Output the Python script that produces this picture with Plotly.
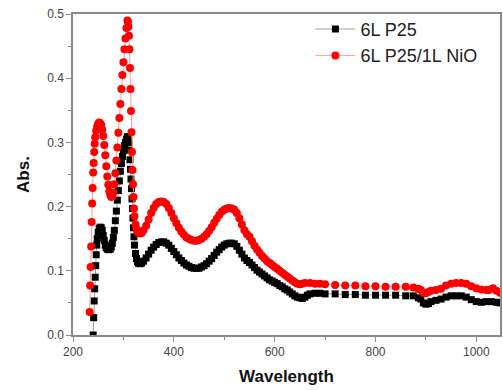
import plotly.graph_objects as go

# ---- data ----
red_wl = [233, 234, 235, 236, 237, 238, 239, 240, 241, 242, 243, 244, 246, 248, 250, 252, 254, 256, 258, 260,
          262, 264, 266, 268, 270, 272, 274, 276, 278, 280, 282, 284, 286, 288, 290, 292, 294, 296, 298, 300,
          302, 304, 306, 308, 309, 310, 311, 312, 313, 314, 315, 316, 317, 318, 319, 320, 321, 322, 324, 326,
          328, 330, 333, 336, 340, 345, 350, 355, 360, 365, 370, 375, 380, 385, 390, 395, 400, 405, 410, 415,
          420, 425, 430, 435, 440, 445, 450, 455, 460, 465, 470, 475, 480, 485, 490, 495, 500, 505, 510, 515,
          520, 525, 530, 535, 540, 545, 550, 555, 560, 565, 570, 575, 580, 585, 590, 595, 600, 605, 610, 615,
          620, 625, 630, 635, 640, 645, 650, 655, 660, 670, 680, 690, 700, 720, 740, 760, 780, 800, 820, 840,
          860, 875, 885, 890, 895, 900, 905, 910, 920, 930, 940, 950, 960, 970, 980, 990, 1000, 1010, 1020, 1025,
          1033, 1040, 1047]
red_abs = [0.036, 0.077, 0.106, 0.138, 0.176, 0.205, 0.229, 0.253, 0.268, 0.285, 0.298, 0.308, 0.318, 0.325, 0.329, 0.331, 0.330, 0.327, 0.320, 0.310,
           0.296, 0.280, 0.263, 0.247, 0.234, 0.224, 0.218, 0.215, 0.216, 0.222, 0.235, 0.252, 0.272, 0.292, 0.315, 0.338, 0.360, 0.383, 0.405, 0.425,
           0.445, 0.462, 0.478, 0.490, 0.488, 0.480, 0.466, 0.445, 0.416, 0.383, 0.349, 0.316, 0.285, 0.257, 0.235, 0.215, 0.197, 0.185, 0.172, 0.165,
           0.161, 0.159, 0.158, 0.159, 0.163, 0.170, 0.180, 0.190, 0.198, 0.204, 0.207, 0.208, 0.207, 0.204, 0.198, 0.190, 0.182, 0.174, 0.167, 0.161,
           0.156, 0.152, 0.150, 0.148, 0.147, 0.147, 0.148, 0.150, 0.153, 0.157, 0.162, 0.168, 0.175, 0.181, 0.187, 0.192, 0.195, 0.197, 0.198, 0.197,
           0.195, 0.190, 0.182, 0.172, 0.163, 0.157, 0.153, 0.146, 0.139, 0.133, 0.128, 0.123, 0.119, 0.115, 0.112, 0.109, 0.106, 0.103, 0.100, 0.097,
           0.094, 0.091, 0.088, 0.085, 0.082, 0.080, 0.079, 0.080, 0.081, 0.081, 0.080, 0.080, 0.079, 0.078, 0.077, 0.077, 0.076, 0.076, 0.075, 0.075,
           0.075, 0.074, 0.072, 0.070, 0.066, 0.065, 0.067, 0.069, 0.070, 0.072, 0.077, 0.080, 0.081, 0.081, 0.080, 0.076, 0.073, 0.071, 0.070, 0.070,
           0.073, 0.069, 0.066]

blk_wl = [240, 241, 242, 243, 244, 245, 246, 247, 248, 250, 252, 254, 256, 258, 260, 262, 264, 266, 268, 270,
          272, 274, 276, 278, 280, 282, 284, 286, 288, 290, 292, 294, 296, 298, 300, 302, 304, 306, 308, 310,
          311, 312, 313, 314, 315, 316, 317, 318, 319, 320, 321, 322, 324, 326, 328, 330, 333, 336, 340, 345,
          350, 355, 360, 365, 370, 375, 380, 385, 390, 395, 400, 405, 410, 415, 420, 425, 430, 435, 440, 445,
          450, 455, 460, 465, 470, 475, 480, 485, 490, 495, 500, 505, 510, 515, 520, 525, 530, 535, 540, 545,
          550, 555, 560, 565, 570, 575, 580, 585, 590, 595, 600, 605, 610, 615, 620, 625, 630, 635, 640, 645,
          650, 655, 660, 665, 670, 680, 690, 700, 720, 740, 760, 780, 800, 820, 840, 860, 875, 885, 890, 895,
          900, 905, 910, 920, 930, 940, 950, 960, 970, 980, 990, 1000, 1010, 1020, 1030, 1040, 1047]
blk_abs = [0.000, 0.027, 0.053, 0.072, 0.090, 0.108, 0.125, 0.140, 0.150, 0.160, 0.166, 0.168, 0.167, 0.163, 0.155, 0.147, 0.140, 0.136, 0.134, 0.133,
           0.133, 0.134, 0.137, 0.143, 0.152, 0.163, 0.178, 0.193, 0.210, 0.225, 0.240, 0.255, 0.267, 0.278, 0.287, 0.295, 0.300, 0.305, 0.309, 0.308,
           0.300, 0.288, 0.273, 0.258, 0.243, 0.228, 0.212, 0.197, 0.182, 0.167, 0.153, 0.140, 0.127, 0.119, 0.114, 0.112, 0.111, 0.112, 0.115, 0.120,
           0.126, 0.132, 0.137, 0.141, 0.144, 0.145, 0.145, 0.143, 0.140, 0.135, 0.130, 0.125, 0.120, 0.116, 0.112, 0.109, 0.107, 0.105, 0.104, 0.104,
           0.104, 0.106, 0.108, 0.111, 0.115, 0.119, 0.124, 0.129, 0.133, 0.137, 0.140, 0.142, 0.143, 0.143, 0.142, 0.138, 0.132, 0.126, 0.120, 0.116,
           0.113, 0.109, 0.105, 0.101, 0.098, 0.095, 0.092, 0.089, 0.086, 0.084, 0.082, 0.080, 0.077, 0.075, 0.072, 0.070, 0.067, 0.064, 0.061, 0.059,
           0.058, 0.057, 0.059, 0.062, 0.064, 0.065, 0.065, 0.064, 0.064, 0.063, 0.063, 0.062, 0.062, 0.062, 0.062, 0.061, 0.061, 0.058, 0.056, 0.050,
           0.048, 0.049, 0.052, 0.054, 0.056, 0.059, 0.061, 0.061, 0.061, 0.059, 0.055, 0.052, 0.051, 0.052, 0.052, 0.051, 0.050]

x_ticks = [200, 400, 600, 800, 1000]
y_ticks = [0.0, 0.1, 0.2, 0.3, 0.4, 0.5]

FONT = "Liberation Sans, Arial, sans-serif"

fig = go.Figure()
fig.add_trace(go.Scatter(
    x=blk_wl, y=blk_abs, name="6L P25", mode="lines+markers",
    line=dict(color="#a0a0a0", width=1),
    marker=dict(color="black", symbol="square", size=7, line=dict(width=0)),
))
fig.add_trace(go.Scatter(
    x=red_wl, y=red_abs, name="6L P25/1L NiO", mode="lines+markers",
    line=dict(color="#ff9a9a", width=1),
    marker=dict(color="#ff0000", symbol="circle", size=8, line=dict(width=0)),
))

axis_common = dict(
    showline=True, linecolor="#8a8a8a", linewidth=1.5, mirror=True,
    ticks="outside", tickcolor="#8a8a8a", ticklen=5, tickwidth=1.2,
    showgrid=False, zeroline=False,
    tickfont=dict(family=FONT, size=12, color="#444444"),
)

fig.update_xaxes(
    range=[200, 1047], tickvals=x_ticks, ticktext=[str(v) for v in x_ticks],
    minor=dict(ticks="outside", dtick=100, tick0=200, ticklen=3, tickcolor="#8a8a8a"),
    title=dict(text="<b>Wavelength</b>", standoff=12,
               font=dict(family=FONT, size=17, color="#111111")),
    **axis_common,
)
fig.update_yaxes(
    range=[0, 0.5], tickvals=y_ticks, ticktext=[f"{v:.1f}" for v in y_ticks],
    minor=dict(ticks="outside", dtick=0.05, tick0=0, ticklen=3, tickcolor="#8a8a8a"),
    title=dict(text="<b>Abs.</b>", standoff=13,
               font=dict(family=FONT, size=17, color="#111111")),
    **axis_common,
)

fig.update_layout(
    width=503, height=390,
    margin=dict(l=73, r=1, t=14, b=55),
    paper_bgcolor="white", plot_bgcolor="white",
    showlegend=True,
    legend=dict(x=0.556, y=1.01, xanchor="left", yanchor="top",
                bgcolor="rgba(0,0,0,0)", itemwidth=40,
                font=dict(family=FONT, size=18, color="#222222"),
                tracegroupgap=0),
)

fig.write_html("out.html", config={"displayModeBar": False},
               post_script="document.body.style.margin='0';document.body.style.padding='0';")
